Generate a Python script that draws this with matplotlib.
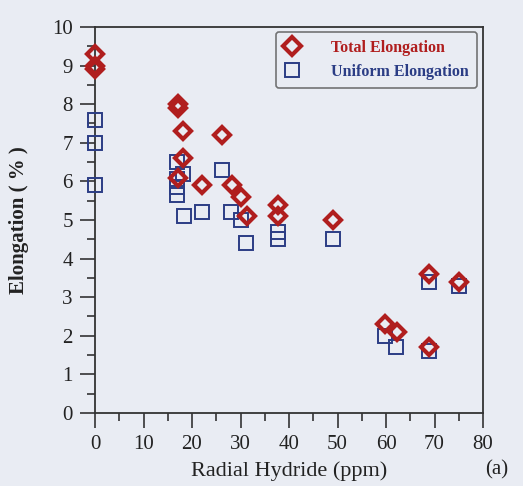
import matplotlib
matplotlib.use("Agg")
import matplotlib.pyplot as plt
from matplotlib.ticker import MultipleLocator

# Data
total_x = [0, 0, 0, 17.2, 17.2, 18.1, 26.1, 18.1, 17.2, 22.0, 28.2, 30.1, 31.4,
           37.8, 37.8, 49.1, 59.8, 62.2, 68.9, 68.9, 75.1]
total_y = [9.3, 9.0, 8.9, 8.0, 7.9, 7.3, 7.2, 6.6, 6.1, 5.9, 5.9, 5.6, 5.1,
           5.4, 5.1, 5.0, 2.3, 2.1, 3.6, 1.7, 3.4]

uniform_x = [0, 0, 0, 17.0, 18.2, 17.0, 17.0, 17.0, 18.4, 22.1, 26.1, 28.0, 30.1,
             31.1, 37.8, 37.8, 49.1, 59.8, 62.1, 68.9, 68.9, 75.1]
uniform_y = [7.6, 7.0, 5.9, 6.5, 6.2, 6.05, 5.85, 5.65, 5.1, 5.2, 6.3, 5.2, 5.0,
             4.4, 4.7, 4.5, 4.5, 2.0, 1.7, 3.4, 1.6, 3.3]

x_ticks = [0, 10, 20, 30, 40, 50, 60, 70, 80]
y_ticks = [0, 1, 2, 3, 4, 5, 6, 7, 8, 9, 10]

red = "#b01e1e"
blue = "#2b3d85"
bg = "#e9ecf3"
serif = ["Liberation Serif", "DejaVu Serif"]
plt.rcParams["font.family"] = serif

fig = plt.figure(figsize=(5.23, 4.86), dpi=100, facecolor=bg)
ax = fig.add_axes([95/523, 1-413/486, 388/523, 386/486], facecolor=bg)

ax.plot(uniform_x, uniform_y, linestyle="none", marker="s", markersize=9.5,
        markerfacecolor="none", markeredgecolor=blue, markeredgewidth=1.4,
        label="Uniform Elongation", zorder=3, clip_on=False)
ax.plot(total_x, total_y, linestyle="none", marker="D", markersize=8,
        markerfacecolor="none", markeredgecolor=red, markeredgewidth=3.0,
        label="Total Elongation", zorder=4, clip_on=False)

ax.set_xlim(0, 80)
ax.set_ylim(0, 10)
ax.set_xticks(x_ticks)
ax.set_yticks(y_ticks)
ax.xaxis.set_minor_locator(MultipleLocator(5))
ax.yaxis.set_minor_locator(MultipleLocator(0.5))
ax.tick_params(which="major", direction="out", length=11, width=1.2, color="#333333",
               labelsize=15, pad=5)
ax.tick_params(which="minor", direction="out", length=6, width=1.2, color="#333333")
for lab in ax.get_xticklabels() + ax.get_yticklabels():
    lab.set_family(serif)
    lab.set_color("#222222")
for s in ax.spines.values():
    s.set_color("#333333")
    s.set_linewidth(1.3)

ax.set_xlabel("Radial Hydride (ppm)", family=serif, fontsize=16, color="#222222")
ax.xaxis.set_label_coords(0.5, -0.124)
ax.set_ylabel("Elongation ( % )", family=serif, fontsize=15, fontweight="bold",
              color="#222222")
ax.yaxis.set_label_coords(-0.17, 0.5)

handles, labels = ax.get_legend_handles_labels()
leg = ax.legend(handles[::-1], labels[::-1], loc="upper right",
                bbox_to_anchor=(0.985, 0.987), frameon=True, fancybox=True,
                prop={"family": serif, "weight": "bold", "size": 11.5},
                handletextpad=2.0, borderpad=0.5, labelspacing=0.5,
                handlelength=1.0, borderaxespad=0, markerscale=1.1)
leg.get_frame().set_edgecolor("#555555")
leg.get_frame().set_facecolor(bg)
leg.get_frame().set_linewidth(1.2)
leg.get_texts()[0].set_color(red)
leg.get_texts()[1].set_color(blue)

fig.text(497/523, 1-470/486, "(a)", family=serif, fontsize=15, color="#222222",
         ha="center", va="center")

fig.savefig("out.png", dpi=100, facecolor=bg)
